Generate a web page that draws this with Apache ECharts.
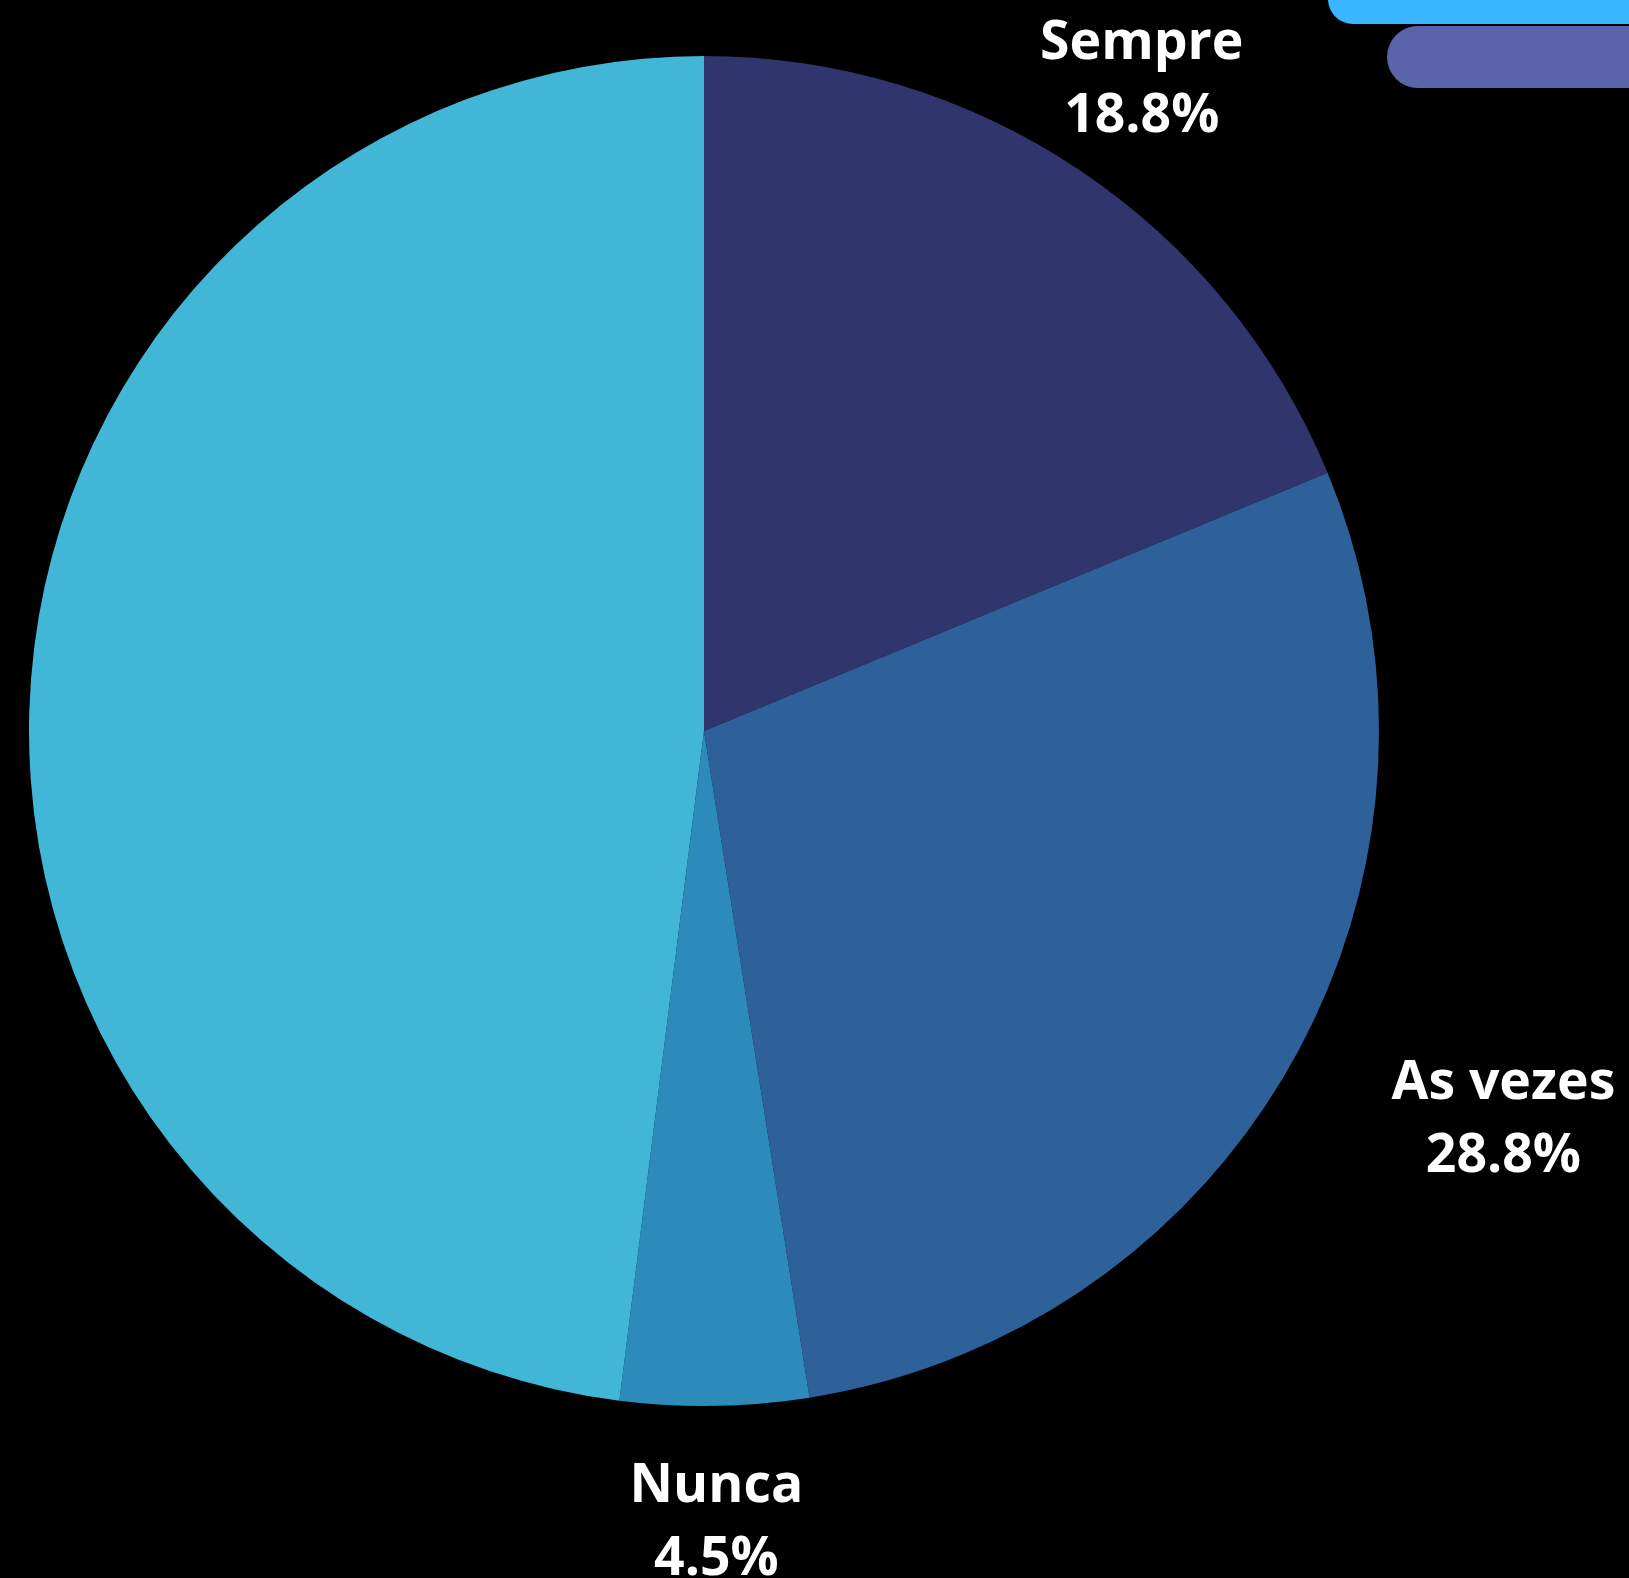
<!DOCTYPE html>
<html>
<head>
<meta charset="utf-8">
<script src="https://cdn.jsdelivr.net/npm/echarts@6/dist/echarts.min.js"></script>
<style>
html,body{margin:0;padding:0;background:#000;}
#chart{width:1629px;height:1578px;}
</style>
</head>
<body>
<div id="chart"></div>
<script>
const categories = ['Sempre', 'As vezes', 'Nunca', 'Raramente'];
const values = [18.75, 28.75, 4.5, 48.0];
const colors = ['#31356E', '#2E6099', '#2C8BBA', '#41B6D6'];

const CX = 704, CY = 731, R = 675, LABEL_R = 788;
const total = values.reduce((a, b) => a + b, 0);
const midAngles = [];
let acc = 0;
values.forEach(v => { midAngles.push((acc + v / 2) / total * 2 * Math.PI); acc += v; });

const chart = echarts.init(document.getElementById('chart'));
chart.setOption({
  backgroundColor: '#000000',
  animation: false,
  graphic: [
    { type: 'rect', shape: { x: 1328, y: -60, width: 400, height: 84, r: 25 }, style: { fill: '#38B6FF' } },
    { type: 'rect', shape: { x: 1387, y: 26, width: 400, height: 62, r: 31 }, style: { fill: '#5964AB' } }
  ],
  series: [{
    type: 'pie',
    center: [CX, CY],
    radius: [0, R],
    startAngle: 90,
    clockwise: true,
    avoidLabelOverlap: false,
    data: categories.map((c, i) => ({ name: c, value: values[i], itemStyle: { color: colors[i] } })),
    label: {
      show: true,
      position: 'outside',
      formatter: p => p.name + '\n' + p.value.toFixed(1) + '%',
      color: '#ffffff',
      fontFamily: 'Open Sans',
      fontWeight: 'bold',
      fontSize: 53.5,
      lineHeight: 73,
      align: 'center'
    },
    labelLine: { show: false },
    labelLayout: function (params) {
      const a = midAngles[params.dataIndex];
      const s = Math.sin(a), c = Math.cos(a);
      let x = CX + LABEL_R * s;
      const w = params.labelRect.width;
      if (Math.abs(s) > 0.8) x += (s > 0 ? 1 : -1) * w / 2;
      return {
        x: x,
        y: CY - LABEL_R * c + 4,
        align: 'center',
        verticalAlign: 'middle'
      };
    },
    emphasis: { disabled: true }
  }]
});
</script>
</body>
</html>
